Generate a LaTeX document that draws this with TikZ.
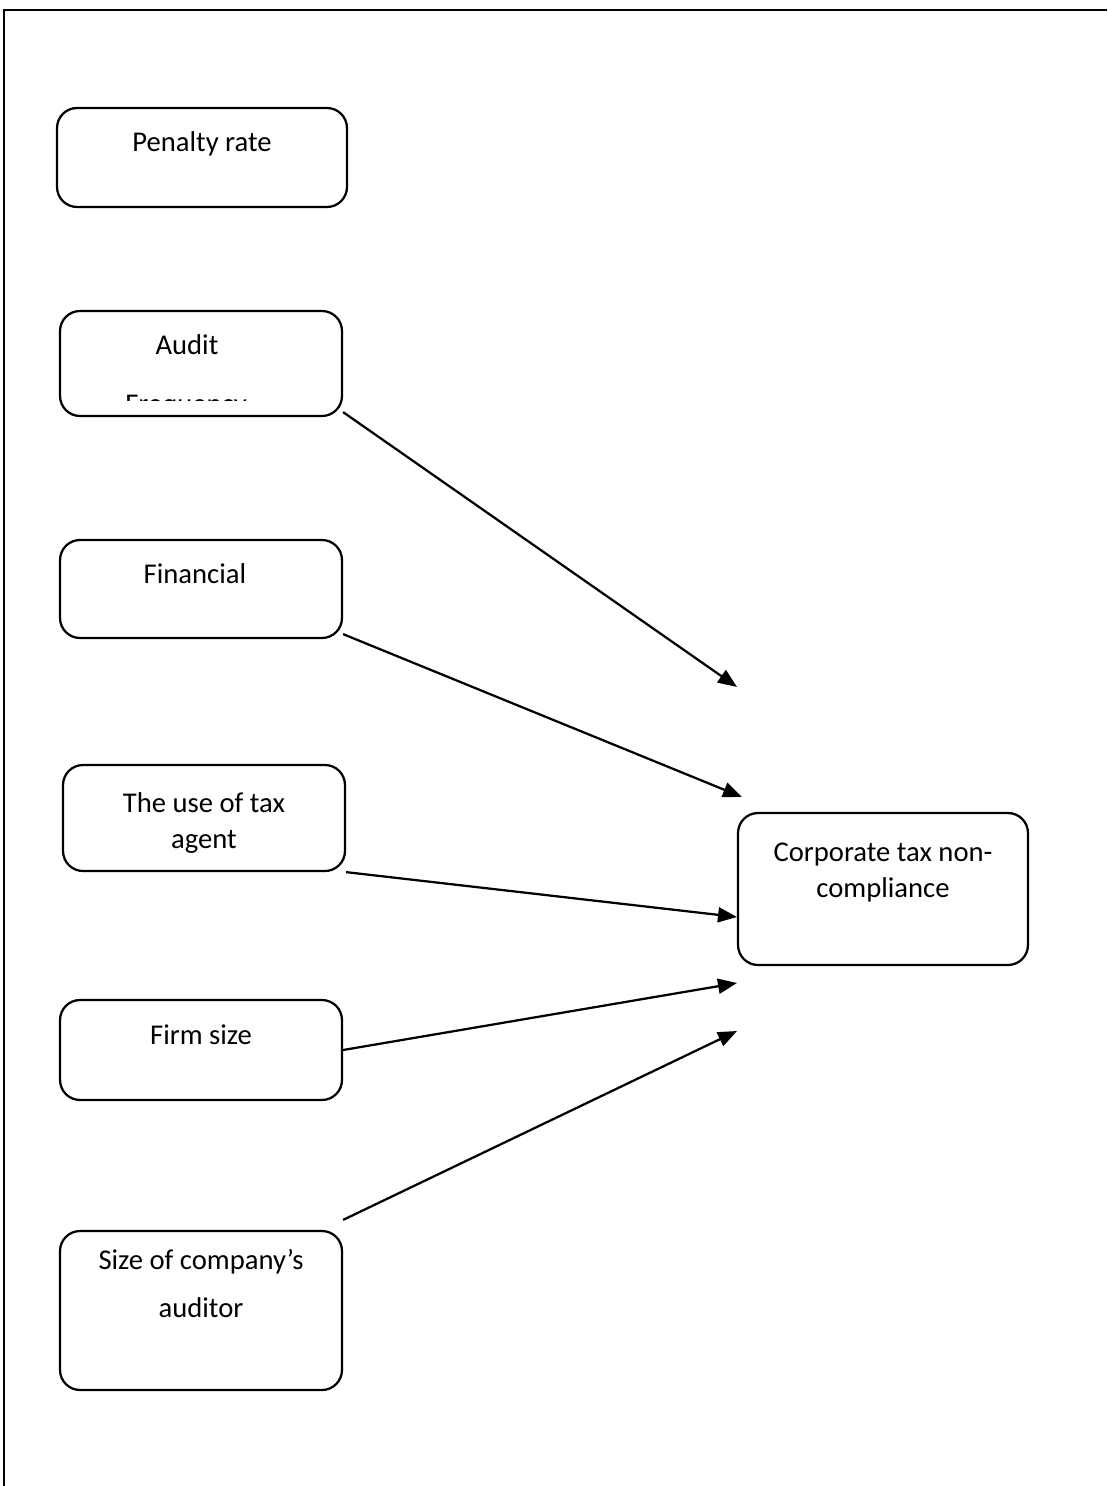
\documentclass[tikz,border=0pt]{standalone}
\usepackage{fontspec}
\setmainfont{Carlito}
\usetikzlibrary{arrows.meta}
\def\txtfont{\fontsize{16.3}{20}\selectfont}

\begin{document}
\begin{tikzpicture}[x=0.02cm,y=-0.02cm,
    box/.style={draw,line width=0.045cm,rounded corners=0.4cm,inner sep=0pt,align=center,anchor=base,font=\txtfont},
    lbl/.style={inner sep=0pt,anchor=base,font=\txtfont},
    arr/.style={line width=0.045cm,-{Triangle[length=0.38cm,width=0.3cm]}}]
    \useasboundingbox (0,0) rectangle (1107,1486);
    \draw[line width=0.045cm] (4,1486)--(4,10)--(1107,10);

    \node[box,minimum width=5.8cm,text height=0.88cm,text depth=1.1cm] (pen) at (202,152) {Penalty rate};
    \node[box,minimum width=5.64cm,text height=0.88cm,text depth=1.22cm] (aud) at (201,355) {Audit\hspace*{0.56cm}};
    \begin{scope}
      \clip (60,311) rectangle (342,401);
      \node[lbl] (freq) at (186,414) {Frequency};
    \end{scope}
    \node[box,minimum width=5.64cm,text height=0.86cm,text depth=1.1cm] (fin) at (201,583) {Financial\hspace*{0.24cm}};
    \node[box,minimum width=5.64cm,text height=1.66cm,text depth=0.46cm] (agt) at (204,848) {The use of tax\\agent};
    \node[box,minimum width=5.64cm,text height=0.88cm,text depth=1.12cm] (firm) at (201,1044) {Firm size};
    \node[box,minimum width=5.64cm,text height=1.72cm,text depth=1.46cm] (adt) at (201,1317) {Size of company’s\\[0.24cm]auditor};
    \node[box,minimum width=5.8cm,text height=1.68cm,text depth=1.36cm] (corp) at (883,897) {Corporate tax non-\\compliance};

    \coordinate (e1) at (737,687);
    \coordinate (e2) at (742,797);
    \coordinate (e3) at (737,917);
    \coordinate (e4) at (737,983);
    \coordinate (e5) at (737,1031);

    \draw[arr] ([yshift=0.1cm]aud.south east) -- (e1);
    \draw[arr] ([yshift=0.1cm]fin.south east) -- (e2);
    \draw[arr] (agt.south east) -- (e3);
    \draw[arr] (firm.east) -- (e4);
    \draw[arr] ([yshift=0.2cm]adt.north east) -- (e5);
\end{tikzpicture}
\end{document}
